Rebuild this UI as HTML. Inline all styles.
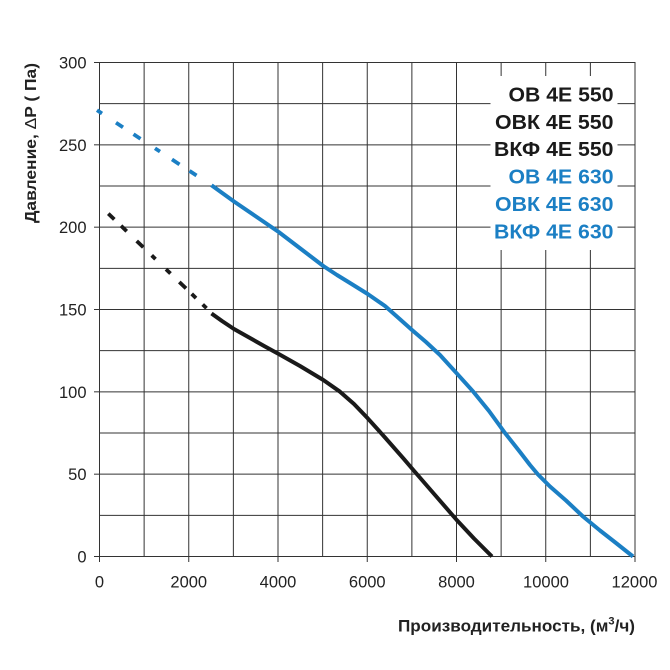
<!DOCTYPE html>
<html><head><meta charset="utf-8"><style>
html,body{margin:0;padding:0;background:#fff;}
svg{display:block;}
text{font-family:"Liberation Sans","DejaVu Sans",sans-serif;}
</style></head><body>
<svg width="670" height="670" viewBox="0 0 670 670" xmlns="http://www.w3.org/2000/svg">
<rect x="0" y="0" width="670" height="670" fill="#fff"/>
<g stroke="#333" stroke-width="1" fill="none">
<!-- horizontal grid -->
<line x1="99.5" y1="515.33" x2="635" y2="515.33"/>
<line x1="99.5" y1="474.17" x2="635" y2="474.17"/>
<line x1="99.5" y1="433" x2="635" y2="433"/>
<line x1="99.5" y1="391.83" x2="635" y2="391.83"/>
<line x1="99.5" y1="350.67" x2="635" y2="350.67"/>
<line x1="99.5" y1="309.5" x2="635" y2="309.5"/>
<line x1="99.5" y1="268.33" x2="635" y2="268.33"/>
<line x1="99.5" y1="227.17" x2="635" y2="227.17"/>
<line x1="99.5" y1="186" x2="635" y2="186"/>
<line x1="99.5" y1="144.83" x2="635" y2="144.83"/>
<line x1="99.5" y1="103.67" x2="635" y2="103.67"/>
<!-- vertical grid -->
<line x1="144.125" y1="62.5" x2="144.125" y2="556.5"/>
<line x1="188.75" y1="62.5" x2="188.75" y2="556.5"/>
<line x1="233.375" y1="62.5" x2="233.375" y2="556.5"/>
<line x1="278" y1="62.5" x2="278" y2="556.5"/>
<line x1="322.625" y1="62.5" x2="322.625" y2="556.5"/>
<line x1="367.25" y1="62.5" x2="367.25" y2="556.5"/>
<line x1="411.875" y1="62.5" x2="411.875" y2="556.5"/>
<line x1="456.5" y1="62.5" x2="456.5" y2="556.5"/>
<line x1="501.125" y1="62.5" x2="501.125" y2="556.5"/>
<line x1="545.75" y1="62.5" x2="545.75" y2="556.5"/>
<line x1="590.375" y1="62.5" x2="590.375" y2="556.5"/>
<!-- frame -->
<rect x="99.5" y="62.5" width="535.5" height="494"/>
<!-- y ticks -->
<line x1="94" y1="556.5" x2="99.5" y2="556.5"/>
<line x1="94" y1="474.17" x2="99.5" y2="474.17"/>
<line x1="94" y1="391.83" x2="99.5" y2="391.83"/>
<line x1="94" y1="309.5" x2="99.5" y2="309.5"/>
<line x1="94" y1="227.17" x2="99.5" y2="227.17"/>
<line x1="94" y1="144.83" x2="99.5" y2="144.83"/>
<line x1="94" y1="62.5" x2="99.5" y2="62.5"/>
<!-- x ticks -->
<line x1="99.5" y1="556.5" x2="99.5" y2="562"/>
<line x1="188.75" y1="556.5" x2="188.75" y2="562"/>
<line x1="278" y1="556.5" x2="278" y2="562"/>
<line x1="367.25" y1="556.5" x2="367.25" y2="562"/>
<line x1="456.5" y1="556.5" x2="456.5" y2="562"/>
<line x1="545.75" y1="556.5" x2="545.75" y2="562"/>
<line x1="635" y1="556.5" x2="635" y2="562"/>
</g>
<!-- legend white box -->
<rect x="490.5" y="76" width="127" height="174" fill="#fff"/>

<!-- blue dashed -->
<g stroke="#1b7fc4" stroke-width="3.8" fill="none" stroke-linecap="butt">
<line x1="97" y1="110.2" x2="102" y2="113.5"/>
<line x1="116" y1="122.7" x2="123" y2="127.3"/>
<line x1="133.5" y1="134.2" x2="140.5" y2="138.8"/>
<line x1="155" y1="148.3" x2="160" y2="151.6"/>
<line x1="172" y1="159.4" x2="179.5" y2="164.4"/>
<line x1="189.5" y1="170.9" x2="196.5" y2="175.5"/>
</g>
<!-- black dashed -->
<g stroke="#1a1a1a" stroke-width="3.8" fill="none" stroke-linecap="butt">
<line x1="108.3" y1="213.6" x2="114.3" y2="219.4"/>
<line x1="121" y1="225.8" x2="126.7" y2="231.3"/>
<line x1="136.7" y1="241" x2="143.3" y2="247.3"/>
<line x1="151.7" y1="255.4" x2="155.5" y2="259.1"/>
<line x1="166" y1="269.2" x2="170.5" y2="273.5"/>
<line x1="179.3" y1="282" x2="186" y2="288.4"/>
<line x1="191.7" y1="293.9" x2="196" y2="298.1"/>
<line x1="202.7" y1="304.5" x2="206.5" y2="308.2"/>
</g>
<!-- blue solid -->
<polyline fill="none" stroke="#1b7fc4" stroke-width="4" stroke-linejoin="round" stroke-linecap="butt"
points="211.5,185.2 234,201.5 256,216.5 278.7,232 301,249 323.3,266 337,275 350,283 367.7,294 385,306 398,317.5 412,330 426,342 440,355 456.7,373.3 473.3,391.7 489,411 505,433 520,452 530,465 538,474.5 550,486.5 566,500.5 583,516.5 600,530.5 616,543 633,556.5"/>
<!-- black solid -->
<polyline fill="none" stroke="#1a1a1a" stroke-width="4" stroke-linejoin="round" stroke-linecap="butt"
points="211.5,313.5 222,321 234,329 250,338 265,346.5 278.7,354 300,366 323.3,380 340,391.7 354,404 367.7,418.3 385,437.5 403.3,458.3 413.3,470 435,495 456.7,520 474,538.5 492,556.5"/>

<!-- y tick labels -->
<g font-size="16.5" fill="#222" text-anchor="end">
<text x="86.5" y="562.5">0</text>
<text x="86.5" y="480">50</text>
<text x="86.5" y="397.8">100</text>
<text x="86.5" y="315.5">150</text>
<text x="86.5" y="233.2">200</text>
<text x="86.5" y="150.8">250</text>
<text x="86.5" y="68.5">300</text>
</g>
<!-- x tick labels -->
<g font-size="16.5" fill="#222" text-anchor="middle">
<text x="99.5" y="587.5">0</text>
<text x="188.75" y="587.5">2000</text>
<text x="278" y="587.5">4000</text>
<text x="367.25" y="587.5">6000</text>
<text x="456.5" y="587.5">8000</text>
<text x="546" y="587.5">10000</text>
<text x="634.5" y="587.5">12000</text>
</g>
<!-- axis titles -->
<text x="398" y="631.7" font-size="17" font-weight="bold" fill="#222" textLength="237" lengthAdjust="spacingAndGlyphs">Производительность, (м<tspan font-size="11" dy="-7">3</tspan><tspan dy="7">/ч)</tspan></text>
<text transform="translate(36,223) rotate(-90)" x="0" y="0" font-size="16" font-weight="bold" fill="#222" textLength="160" lengthAdjust="spacingAndGlyphs">Давление, <tspan font-weight="normal">Δ</tspan>P ( Па)</text>

<!-- legend -->
<g font-size="20" font-weight="bold" text-anchor="end">
<text x="613.5" y="101.7" fill="#1a1a1a" textLength="105" lengthAdjust="spacingAndGlyphs">ОВ 4Е 550</text>
<text x="613.5" y="129" fill="#1a1a1a" textLength="118.5" lengthAdjust="spacingAndGlyphs">ОВК 4Е 550</text>
<text x="613.5" y="156.2" fill="#1a1a1a" textLength="119.5" lengthAdjust="spacingAndGlyphs">ВКФ 4Е 550</text>
<text x="613.5" y="183.5" fill="#1b7fc4" textLength="105" lengthAdjust="spacingAndGlyphs">ОВ 4Е 630</text>
<text x="613.5" y="211" fill="#1b7fc4" textLength="118.5" lengthAdjust="spacingAndGlyphs">ОВК 4Е 630</text>
<text x="613.5" y="238.3" fill="#1b7fc4" textLength="119.5" lengthAdjust="spacingAndGlyphs">ВКФ 4Е 630</text>
</g>
</svg>
</body></html>
